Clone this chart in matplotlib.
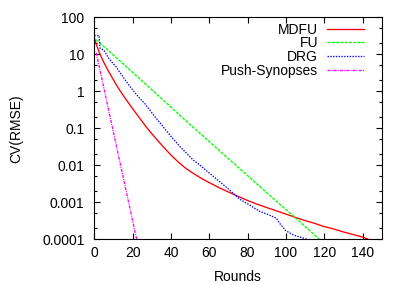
import matplotlib
matplotlib.use("Agg")
import matplotlib.pyplot as plt
from matplotlib.ticker import LogLocator, NullFormatter, FixedLocator, FixedFormatter

# ---- data ----
mdfu_x = [0, 1, 2, 3, 5, 7, 9, 11, 13, 16, 20, 24, 28, 32, 36, 40, 44, 48, 52, 56,
          60, 65, 70, 75, 80, 85, 90, 95, 100, 105, 110, 115, 120, 125, 130, 135, 140, 143]
mdfu_y = [28.2, 19.1, 13.5, 10.0, 6.0, 3.8, 2.5, 1.66, 1.12, 0.66, 0.34, 0.178, 0.095,
          0.054, 0.0316, 0.019, 0.012, 0.0081, 0.0059, 0.0044, 0.0034, 0.0025, 0.0019,
          0.00145, 0.00112, 0.00089, 0.00072, 0.00059, 0.00048, 0.00039, 0.00032,
          0.00027, 0.00022, 0.00019, 0.000158, 0.000135, 0.000115, 0.0001]

fu_x = [1, 25, 50, 75, 95, 105, 117.5]
fu_y = [25, 1.9, 0.126, 0.0089, 0.00107, 0.00038, 0.0001]

drg_x = [0, 2.5, 3, 5, 7.5, 9, 11.5, 13.6, 16.2, 18.8, 21.4, 24, 26.6, 29, 31.5, 34.3,
         39.5, 44.7, 51.6, 55, 60.3, 65.5, 70.8, 76, 81, 86, 91, 95, 97, 100, 104, 111]
drg_y = [32, 32, 14.5, 13, 7.8, 6.3, 4.5, 3.1, 2.0, 1.3, 0.89, 0.62, 0.45, 0.31, 0.21,
         0.14, 0.065, 0.032, 0.0139, 0.0102, 0.006, 0.0036, 0.0021, 0.0012, 0.00085,
         0.00058, 0.00046, 0.00037, 0.00026, 0.00017, 0.00013, 0.0001]

push_x = [1, 22.1]
push_y = [11, 0.0001]

x_ticks = [0, 20, 40, 60, 80, 100, 120, 140]
y_ticks = [1e2, 1e1, 1e0, 1e-1, 1e-2, 1e-3, 1e-4]
y_tick_labels = ["100", "10", "1", "0.1", "0.01", "0.001", "0.0001"]

labels = ["MDFU", "FU", "DRG", "Push-Synopses"]

# ---- figure ----
plt.rcParams['font.family'] = ['Liberation Sans', 'DejaVu Sans']
plt.rcParams['lines.scale_dashes'] = False

W, H = 407, 285
fig = plt.figure(figsize=(W / 100, H / 100), dpi=100)
left, right, top, bottom = 94.3, 381.7, 17.3, 239.3
ax = fig.add_axes([left / W, 1 - bottom / H, (right - left) / W, (bottom - top) / H])

lw = 0.95
ax.plot(mdfu_x, mdfu_y, color='#ff0000', lw=lw, label=labels[0])
ax.plot(fu_x, fu_y, color='#00ff00', lw=lw, dashes=(2.2, 0.9), label=labels[1])
ax.plot(drg_x, drg_y, color='#0000ff', lw=lw, dashes=(1.0, 1.0), label=labels[2])
ax.plot(push_x, push_y, color='#ff00ff', lw=lw, dashes=(2.2, 0.8, 0.7, 0.8), label=labels[3])

ax.set_yscale('log')
ax.set_xlim(0, 150)
ax.set_ylim(1e-4, 1e2)

ax.xaxis.set_major_locator(FixedLocator(x_ticks))
ax.yaxis.set_major_locator(FixedLocator(y_ticks))
ax.yaxis.set_major_formatter(FixedFormatter(y_tick_labels))
ax.yaxis.set_minor_locator(LogLocator(base=10, subs=[2, 5]))
ax.yaxis.set_minor_formatter(NullFormatter())
ax.xaxis.set_minor_locator(FixedLocator([]))

fs = 10
ax.tick_params(which='both', direction='in', top=True, right=True, width=0.8,
               labelsize=fs, colors='black')
ax.tick_params(which='major', length=4.5)
ax.tick_params(which='minor', length=2.5)
ax.tick_params(axis='y', pad=7)
ax.tick_params(axis='x', pad=5)
for sp in ax.spines.values():
    sp.set_linewidth(0.8)

ax.set_xlabel("Rounds", fontsize=fs, labelpad=7)
ax.set_ylabel("CV(RMSE)", fontsize=fs, labelpad=14)

leg = ax.legend(loc='upper right', bbox_to_anchor=(364 / W, 1 - 22.5 / H),
                bbox_transform=fig.transFigure, frameon=False, markerfirst=False,
                fontsize=fs, handlelength=2.7, handletextpad=0.6,
                labelspacing=-0.02, borderpad=0, borderaxespad=0)

fig.savefig("out.png", dpi=100)
